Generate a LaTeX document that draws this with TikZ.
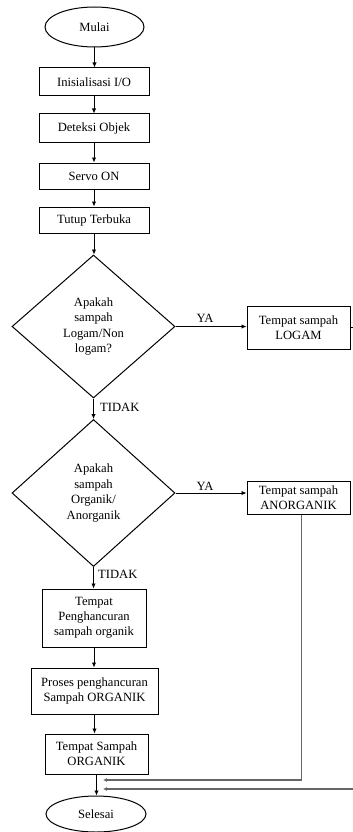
\documentclass[tikz,border=0pt]{standalone}
\usepackage{fontspec}
\setmainfont{Liberation Serif}
\usetikzlibrary{shapes.geometric,arrows.meta}
\begin{document}
\begin{tikzpicture}[x=1pt,y=-1pt,
  txt/.style={font=\fontsize{12.6}{15}\selectfont, align=center, inner sep=0pt},
  box/.style={txt, draw, line width=1pt, rectangle},
  term/.style={txt, draw, line width=1pt, ellipse},
  dec/.style={font=\fontsize{12.6}{15.5}\selectfont, align=center, draw, line width=1pt, diamond, inner sep=0pt},
  arr/.style={line width=0.9pt, -{Latex[length=5pt,width=4.5pt]}},
  grayarr/.style={draw=gray!80!black, line width=1.7pt, -{Latex[length=4pt,width=4pt]}},
  lab/.style={font=\fontsize{12.6}{15}\selectfont, inner sep=0pt}]
\useasboundingbox (0,0) rectangle (353,832);

\node[term, minimum width=99pt, minimum height=40pt] (mulai) at (94.5,27) {Mulai};
\node[box, minimum width=110pt, minimum height=28pt] (init) at (94,82) {Inisialisasi I/O};
\node[box, minimum width=110pt, minimum height=28pt] (det) at (94,128) {Deteksi Objek};
\node[box, minimum width=110pt, minimum height=26pt] (servo) at (94,176) {Servo ON};
\node[box, minimum width=110pt, minimum height=26pt] (tutup) at (94,220) {Tutup Terbuka};
\node[dec, minimum width=163pt, minimum height=143pt] (d1) at (93.5,326.5) {Apakah\\sampah\\Logam/Non\\logam?};
\node[box, minimum width=103pt, minimum height=43pt] (logam) at (298.5,327.5) {Tempat sampah\\LOGAM};
\node[dec, minimum width=163pt, minimum height=147pt] (d2) at (93.5,493) {Apakah\\sampah\\Organik/\\Anorganik};
\node[box, minimum width=103pt, minimum height=33pt] (anorg) at (298.5,497.5) {Tempat sampah\\ANORGANIK};
\node[box, minimum width=104pt, minimum height=58pt] (peng) at (94,618) {Tempat\\Penghancuran\\sampah organik};
\node[box, minimum width=127pt, minimum height=46pt] (proses) at (94.5,691) {Proses penghancuran\\Sampah ORGANIK};
\node[box, minimum width=103pt, minimum height=40pt] (torg) at (96.5,754) {Tempat Sampah\\ORGANIK};
\node[term, minimum width=100pt, minimum height=36pt] (selesai) at (96,814) {Selesai};

\node[lab] (ya1) at (205,318) {YA};
\node[lab] (ya2) at (205,486) {YA};
\node[lab, anchor=west] (tidak1) at (100,407) {TIDAK};
\node[lab, anchor=west] (tidak2) at (98,574) {TIDAK};

\coordinate (logamout) at (353,327.5);
\coordinate (rightin) at (353,789);
\coordinate (join1) at (103,780);
\coordinate (join2) at (103,789);

\draw[arr] (mulai.south) -- (mulai.south |- init.north);
\draw[arr] (init.south) -- (init.south |- det.north);
\draw[arr] (det.south) -- (det.south |- servo.north);
\draw[arr] (servo.south) -- (servo.south |- tutup.north);
\draw[arr] (tutup.south) -- (tutup.south |- d1.north);
\draw[arr] (d1.east) -- (d1.east -| logam.west);
\draw[line width=0.9pt] (logam.east) -- (logamout);
\draw[arr] (d1.south) -- (d1.south |- d2.north);
\draw[arr] (d2.east) -- (d2.east -| anorg.west);
\draw[arr] (d2.south) -- (d2.south |- peng.north);
\draw[arr] (peng.south) -- (peng.south |- proses.north);
\draw[arr] (proses.south) -- (proses.south |- torg.north);
\draw[arr] (torg.south) -- (torg.south |- selesai.north);
\draw[grayarr] ([xshift=3pt]anorg.south) |- (join1);
\draw[grayarr] (rightin) -- (join2);
\end{tikzpicture}
\end{document}
